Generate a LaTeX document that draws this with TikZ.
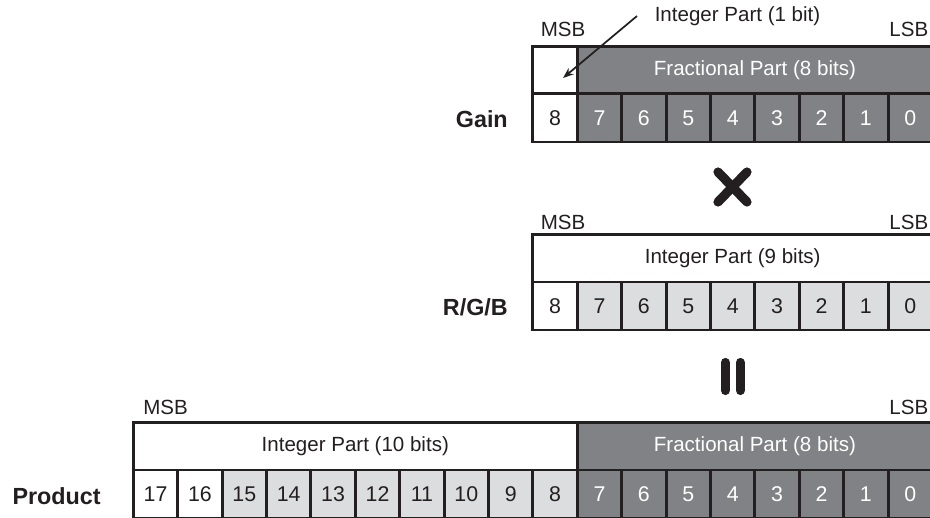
\documentclass[tikz,border=0pt]{standalone}
\usepackage{fontspec}
\setmainfont{Liberation Sans}
\usetikzlibrary{arrows.meta}
\definecolor{dgray}{RGB}{128,130,133}
\definecolor{lgray}{RGB}{220,221,222}
\definecolor{ink}{RGB}{35,31,32}
\begin{document}
\begin{tikzpicture}[x=0.75pt,y=-0.75pt,
  cellbox/.style={draw=ink, line width=2.2pt, minimum width=33.3pt, minimum height=36pt, inner sep=0pt, font=\fontsize{16}{18}\selectfont},
  whitecell/.style={cellbox, fill=white, text=ink},
  lightcell/.style={cellbox, fill=lgray, text=ink},
  darkcell/.style={cellbox, fill=dgray, text=white},
  headbox/.style={draw=ink, line width=2.2pt, minimum height=35.4pt, inner sep=0pt, font=\fontsize{15.4}{18}\selectfont},
  whitehead/.style={headbox, fill=white, text=ink},
  darkhead/.style={headbox, fill=dgray, text=white},
  edgelabel/.style={inner sep=0pt, text=ink, font=\fontsize{15.4}{18}\selectfont},
  rowlabel/.style={inner sep=0pt, text=ink, font=\fontsize{17.5}{20}\selectfont\bfseries, anchor=base east},
  sym/.style={draw=ink, line width=6.9pt, line cap=round},
  pointer/.style={draw=ink, line width=1.3pt, -{Stealth[length=8pt,width=6pt]}}
]
\useasboundingbox (0,0) rectangle (930,517);
\clip (0,0) rectangle (930,517);

% ---------- Gain ----------
\node[edgelabel, anchor=base west] (gmsb) at (540.5,36.7) {MSB};
\node[edgelabel, anchor=base east] (glsb) at (928.5,36.7) {LSB};
\node[edgelabel, anchor=base west] (intlabel) at (654.5,21.3) {Integer Part (1 bit)};
\node[whitehead, minimum width=33.3pt] (gint) at ({932.5-8.5*44.4},70) {};
\node[darkhead, minimum width=266.4pt] (gfrac) at ({932.5-4*44.4},70) {Fractional Part (8 bits)};
\node[whitecell] (g8) at ({932.5-8.5*44.4},118) {8};
\foreach \k in {0,...,7}
  \node[darkcell] (g\k) at ({932.5-(\k+0.5)*44.4},118) {\k};
\node[rowlabel] (gainlbl) at (508,127.5) {Gain};
\coordinate (atail) at (637,16);
\coordinate (ahead) at (563,78);
\draw[pointer] (atail) -- (ahead);

% ---------- times ----------
\coordinate (x1) at (718,172);
\coordinate (x2) at (747,202);
\coordinate (x3) at (718,202);
\coordinate (x4) at (747,172);
\draw[sym] (x1) -- (x2);
\draw[sym] (x3) -- (x4);

% ---------- R/G/B ----------
\node[edgelabel, anchor=base west] (rmsb) at (540.5,229.7) {MSB};
\node[edgelabel, anchor=base east] (rlsb) at (928.5,229.7) {LSB};
\node[whitehead, minimum width=299.7pt] (rint) at ({932.5-4.5*44.4},258.5) {Integer Part (9 bits)};
\node[whitecell] (r8) at ({932.5-8.5*44.4},306) {8};
\foreach \k in {0,...,7}
  \node[lightcell] (r\k) at ({932.5-(\k+0.5)*44.4},306) {\k};
\node[rowlabel] (rgblbl) at (508,315) {R/G/B};

% ---------- equals ----------
\coordinate (e1) at (725.3,362.5);
\coordinate (e2) at (725.3,390.5);
\coordinate (e3) at (740.3,362.5);
\coordinate (e4) at (740.3,390.5);
\draw[sym] (e1) -- (e2);
\draw[sym] (e3) -- (e4);

% ---------- Product ----------
\node[edgelabel, anchor=base west] (pmsb) at (143,414.5) {MSB};
\node[edgelabel, anchor=base east] (plsb) at (928.5,414) {LSB};
\node[whitehead, minimum width=333pt] (pint) at ({932.5-13*44.4},446.5) {Integer Part (10 bits)};
\node[darkhead, minimum width=266.4pt] (pfrac) at ({932.5-4*44.4},446.5) {Fractional Part (8 bits)};
\foreach \k in {16,17}
  \node[whitecell] (p\k) at ({932.5-(\k+0.5)*44.4},494) {\k};
\foreach \k in {8,...,15}
  \node[lightcell] (p\k) at ({932.5-(\k+0.5)*44.4},494) {\k};
\foreach \k in {0,...,7}
  \node[darkcell] (p\k) at ({932.5-(\k+0.5)*44.4},494) {\k};
\node[rowlabel] (prodlbl) at (101,504) {Product};
\end{tikzpicture}
\end{document}
